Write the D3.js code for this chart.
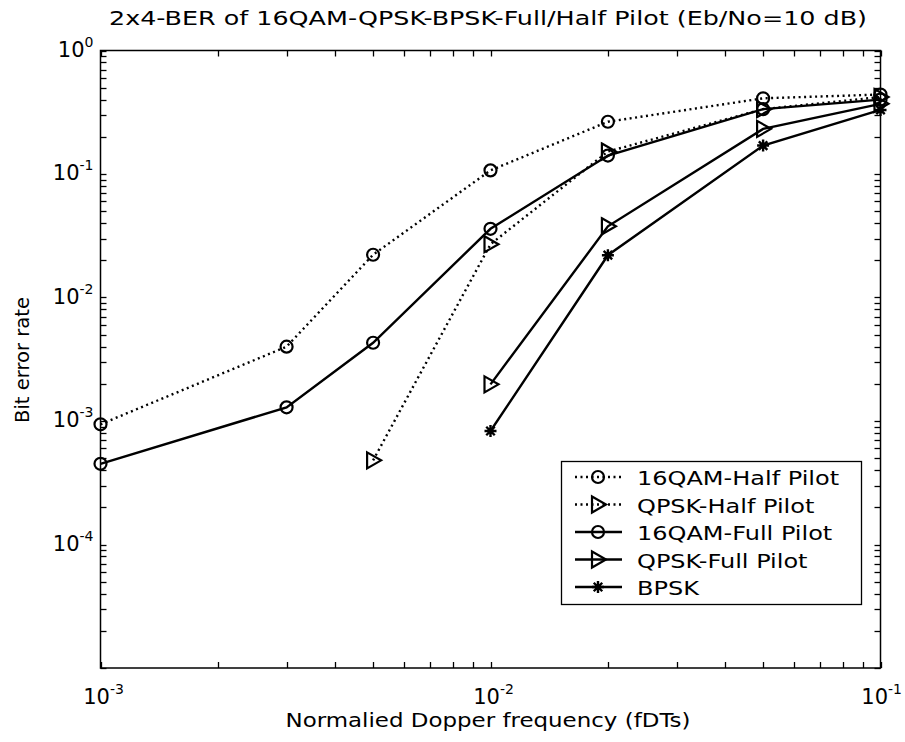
<!DOCTYPE html>
<html>
<head>
<meta charset="utf-8">
<script src="https://cdn.jsdelivr.net/npm/d3@7"></script>
<style>
  html, body { margin: 0; padding: 0; background: #fff; }
  svg { display: block; }
  text { font-family: "DejaVu Sans", "Liberation Sans", sans-serif; fill: #000; }
</style>
</head>
<body>
<svg id="chart" width="905" height="742"></svg>
<script>
// Normalized Doppler frequency values (fDTs)
const dopplerValues = [0.001, 0.003, 0.005, 0.01, 0.02, 0.05, 0.1];

// BER curves at Eb/No = 10 dB
const qam16HalfX = [0.001, 0.003, 0.005, 0.01, 0.02, 0.05, 0.1];
const qam16HalfY = [9.4e-4, 4.0e-3, 0.0222, 0.107, 0.265, 0.41, 0.44];

const qpskHalfX = [0.005, 0.01, 0.02, 0.05, 0.1];
const qpskHalfY = [4.8e-4, 0.027, 0.152, 0.335, 0.42];

const qam16FullX = [0.001, 0.003, 0.005, 0.01, 0.02, 0.05, 0.1];
const qam16FullY = [4.5e-4, 1.29e-3, 4.3e-3, 0.036, 0.141, 0.335, 0.40];

const qpskFullX = [0.01, 0.02, 0.05, 0.1];
const qpskFullY = [1.98e-3, 0.0377, 0.232, 0.37];

const bpskX = [0.01, 0.02, 0.05, 0.1];
const bpskY = [8.3e-4, 0.022, 0.17, 0.33];

const seriesNames = ["16QAM-Half Pilot", "QPSK-Half Pilot", "16QAM-Full Pilot", "QPSK-Full Pilot", "BPSK"];

const xTickExps = [-3, -2, -1];
const yTickExps = [0, -1, -2, -3, -4];

const titleText = "2x4-BER of 16QAM-QPSK-BPSK-Full/Half Pilot (Eb/No=10 dB)";
const xLabelText = "Normalied Dopper frequency (fDTs)";
const yLabelText = "Bit error rate";

const series = [
  { name: seriesNames[0], x: qam16HalfX, y: qam16HalfY, dash: "2,3.5", marker: "circle" },
  { name: seriesNames[1], x: qpskHalfX,  y: qpskHalfY,  dash: "2,3.5", marker: "triangle" },
  { name: seriesNames[2], x: qam16FullX, y: qam16FullY, dash: null,    marker: "circle" },
  { name: seriesNames[3], x: qpskFullX,  y: qpskFullY,  dash: null,    marker: "triangle" },
  { name: seriesNames[4], x: bpskX,      y: bpskY,      dash: null,    marker: "star" }
];

const plot = { left: 100.5, right: 880.5, top: 50.5, bottom: 668 };
const W = 905;

const svg = d3.select("#chart");
const x = d3.scaleLog().domain([1e-3, 1e-1]).range([plot.left, plot.right]);
const y = d3.scaleLog().domain([1e-5, 1]).range([plot.bottom, plot.top]);

// Stretch a text horizontally by a factor (the label font here is a wide gothic face)
function widen(sel, factor) {
  const n = sel.node();
  const w = n.getComputedTextLength();
  sel.attr("textLength", w * factor).attr("lengthAdjust", "spacingAndGlyphs");
  return sel;
}

// Axis box
svg.append("rect")
  .attr("x", plot.left).attr("y", plot.top)
  .attr("width", plot.right - plot.left).attr("height", plot.bottom - plot.top)
  .attr("fill", "none").attr("stroke", "#000").attr("stroke-width", 1.5);

// Inward ticks on all four sides
const tickLen = 6;
const xTicks = x.ticks();
const yTicks = y.ticks();
const tickG = svg.append("g").attr("stroke", "#000").attr("stroke-width", 1.3);
xTicks.forEach(t => {
  const px = Math.round(x(t)) + 0.5;
  tickG.append("line").attr("x1", px).attr("x2", px).attr("y1", plot.bottom).attr("y2", plot.bottom - tickLen);
  tickG.append("line").attr("x1", px).attr("x2", px).attr("y1", plot.top).attr("y2", plot.top + tickLen);
});
yTicks.forEach(t => {
  const py = Math.round(y(t)) + 0.5;
  tickG.append("line").attr("x1", plot.left).attr("x2", plot.left + tickLen).attr("y1", py).attr("y2", py);
  tickG.append("line").attr("x1", plot.right).attr("x2", plot.right - tickLen).attr("y1", py).attr("y2", py);
});

// Power-of-ten tick labels
function powLabel(g, px, py, exp, anchor) {
  const t = g.append("text").attr("x", px).attr("y", py).attr("text-anchor", anchor)
    .style("font-size", "21px");
  t.append("tspan").text("10");
  t.append("tspan").attr("dy", -10).style("font-size", "14px").text(String(exp));
  return t;
}
const labelG = svg.append("g");
xTickExps.forEach(e => {
  const t = powLabel(labelG, x(Math.pow(10, e)) + 3, plot.bottom + 36, e, "middle");
  // keep the rightmost label inside the page
  const bb = t.node().getBBox();
  const over = bb.x + bb.width - (W - 3);
  if (over > 0) t.attr("x", +t.attr("x") - over);
});
yTickExps.forEach(e => powLabel(labelG, plot.left - 7, y(Math.pow(10, e)) + 6, e, "end"));

// Title and axis labels
svg.append("text").attr("x", 488).attr("y", 25).attr("text-anchor", "middle")
  .style("font-size", "19px").attr("textLength", 758).attr("lengthAdjust", "spacingAndGlyphs")
  .text(titleText);
svg.append("text").attr("x", 488).attr("y", 727).attr("text-anchor", "middle")
  .style("font-size", "19px").attr("textLength", 405).attr("lengthAdjust", "spacingAndGlyphs")
  .text(xLabelText);
svg.append("text").attr("transform", "translate(29,360) rotate(-90)").attr("text-anchor", "middle")
  .style("font-size", "19px").attr("textLength", 126).attr("lengthAdjust", "spacingAndGlyphs")
  .text(yLabelText);

// Marker drawing
function drawMarker(g, marker, cx, cy) {
  if (marker === "circle") {
    g.append("circle").attr("cx", cx).attr("cy", cy).attr("r", 6)
      .attr("fill", "none").attr("stroke", "#000").attr("stroke-width", 2.2);
  } else if (marker === "triangle") {
    const s = 8;
    g.append("path")
      .attr("d", `M${cx - s * 0.75},${cy - s}L${cx + s},${cy}L${cx - s * 0.75},${cy + s}Z`)
      .attr("fill", "none").attr("stroke", "#000").attr("stroke-width", 2.2);
  } else if (marker === "star") {
    const r = 6;
    let d = "";
    for (let k = 0; k < 4; k++) {
      const a = k * Math.PI / 4;
      d += `M${cx - r * Math.cos(a)},${cy - r * Math.sin(a)}L${cx + r * Math.cos(a)},${cy + r * Math.sin(a)}`;
    }
    g.append("path").attr("d", d).attr("stroke", "#000").attr("stroke-width", 2.4);
    g.append("circle").attr("cx", cx).attr("cy", cy).attr("r", 2.5).attr("fill", "#000");
  }
}

const line = d3.line().x(d => x(d[0])).y(d => y(d[1]));
const dataG = svg.append("g");
series.forEach(s => {
  const pts = s.x.map((v, i) => [v, s.y[i]]);
  dataG.append("path").datum(pts).attr("d", line)
    .attr("fill", "none").attr("stroke", "#000")
    .attr("stroke-width", 2.4)
    .attr("stroke-dasharray", s.dash);
  pts.forEach(p => drawMarker(dataG, s.marker, x(p[0]), y(p[1])));
});

// Legend
const leg = { x0: 561.5, y0: 461.5, w: 300, h: 143, row0: 477, step: 27.5 };
const legG = svg.append("g");
legG.append("rect").attr("x", leg.x0).attr("y", leg.y0).attr("width", leg.w).attr("height", leg.h)
  .attr("fill", "#fff").attr("stroke", "#000").attr("stroke-width", 1.3);
series.forEach((s, i) => {
  const ry = leg.row0 + i * leg.step;
  legG.append("line").attr("x1", 575).attr("x2", 622).attr("y1", ry).attr("y2", ry)
    .attr("stroke", "#000").attr("stroke-width", 2.4).attr("stroke-dasharray", s.dash);
  drawMarker(legG, s.marker, 598, ry);
  const t = legG.append("text").attr("x", 637).attr("y", ry + 8).style("font-size", "20px").text(s.name);
  widen(t, 1.2);
});
</script>
</body>
</html>
